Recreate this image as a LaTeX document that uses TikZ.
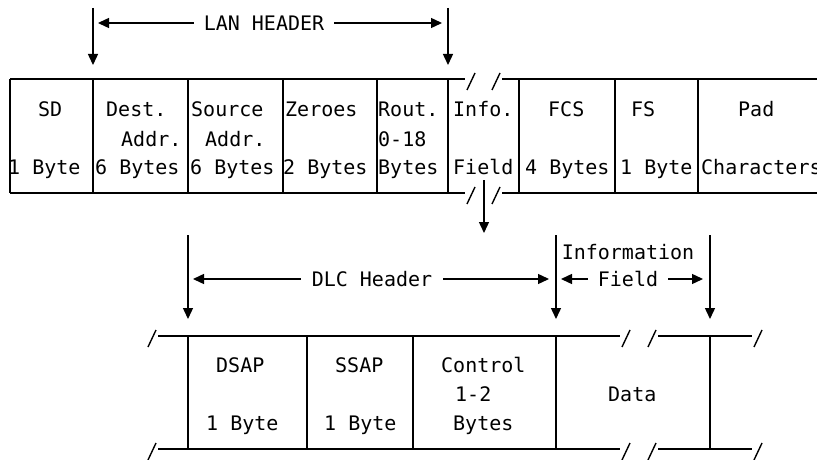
\documentclass[tikz,border=0pt]{standalone}
\usepackage{fontspec}
\newfontfamily\monoface{DejaVu Sans Mono}
\newcommand\dfont{\fontsize{20}{24}\selectfont\monoface}
\usetikzlibrary{arrows.meta}
\begin{document}
\begin{tikzpicture}[x=1pt,y=-1pt,
  ln/.style={line width=1.4pt},
  arr/.style={ln,-{Triangle[length=11pt,width=10pt]}},
  txt/.style={font=\dfont, inner sep=0pt, anchor=base west},
  lbl/.style={font=\dfont, inner xsep=10pt, inner ysep=0pt},
  brk/.style={ln}]
\clip (0,0) rectangle (817,460);
\fill[white] (0,0) rectangle (817,460);
% ---- LAN header arrows
\coordinate (a1s) at (93,8);  \coordinate (a1e) at (93,65);
\coordinate (a2s) at (448,8); \coordinate (a2e) at (448,65);
\draw[arr] (a1s) -- (a1e);
\draw[arr] (a2s) -- (a2e);
\node[lbl] (lan) at (264,23) {LAN HEADER};
\coordinate (lanL) at (98,23); \coordinate (lanR) at (442,23);
\draw[arr] (lan.west) -- (lanL);
\draw[arr] (lan.east) -- (lanR);
% ---- top frame
\draw[ln] (10,79) -- (465,79);  \draw[ln] (502,79) -- (817,79);
\draw[ln] (10,193) -- (465,193); \draw[ln] (502,193) -- (817,193);
\foreach \x in {10,93,188,283,377,448,519,615,698} {\draw[ln] (\x,79) -- (\x,193);}
\foreach \x in {467,492} {\foreach \y in {79,193} {\draw[brk] (\x,\y+11) -- ++(8,-17);}}
% top texts
\node[txt] (sd1) at (38,117) {SD};
\node[txt] (sd3) at (8,174) {1 Byte};
\node[txt] (de1) at (106,117) {Dest.};
\node[txt] (de2) at (121,146) {Addr.};
\node[txt] (de3) at (95,174) {6 Bytes};
\node[txt] (so1) at (191,117) {Source};
\node[txt] (so2) at (205,146) {Addr.};
\node[txt] (so3) at (190,174) {6 Bytes};
\node[txt] (ze1) at (285,117) {Zeroes};
\node[txt] (ze3) at (283,174) {2 Bytes};
\node[txt] (ro1) at (378,117) {Rout.};
\node[txt] (ro2) at (378,146) {0-18};
\node[txt] (ro3) at (378,174) {Bytes};
\node[txt] (in1) at (453,117) {Info.};
\node[txt] (in3) at (453,174) {Field};
\node[txt] (fc1) at (548,117) {FCS};
\node[txt] (fc3) at (525,174) {4 Bytes};
\node[txt] (fs1) at (631,117) {FS};
\node[txt] (fs3) at (620,174) {1 Byte};
\node[txt] (pa1) at (738,117) {Pad};
\node[txt] (pa3) at (701,174) {Characters};
% middle arrow
\coordinate (m1) at (484,180); \coordinate (m2) at (484,233);
\draw[arr] (m1) -- (m2);
% ---- lower arrows
\coordinate (b1s) at (188,235); \coordinate (b1e) at (188,319);
\coordinate (b2s) at (556,235); \coordinate (b2e) at (556,319);
\coordinate (b3s) at (710,235); \coordinate (b3e) at (710,319);
\draw[arr] (b1s) -- (b1e);
\draw[arr] (b2s) -- (b2e);
\draw[arr] (b3s) -- (b3e);
\node[lbl,inner xsep=11pt] (dlc) at (372,279) {DLC Header};
\coordinate (dlcL) at (193,279); \coordinate (dlcR) at (549,279);
\draw[arr] (dlc.west) -- (dlcL);
\draw[arr] (dlc.east) -- (dlcR);
\node[txt,anchor=base] (inf) at (628,259) {Information};
\node[lbl] (fld) at (628,279) {Field};
\coordinate (fldL) at (561,279); \coordinate (fldR) at (703,279);
\draw[arr] (fld.west) -- (fldL);
\draw[arr] (fld.east) -- (fldR);
% ---- lower frame
\draw[ln] (158,336) -- (620,336); \draw[ln] (658,336) -- (752,336);
\draw[ln] (158,449) -- (620,449); \draw[ln] (658,449) -- (752,449);
\foreach \x in {188,307,413,556,710} {\draw[ln] (\x,336) -- (\x,449);}
\foreach \x in {148,622,648,754} {\foreach \y in {336,449} {\draw[brk] (\x,\y+11) -- ++(8,-17);}}
% lower texts
\node[txt] (ds1) at (216,372) {DSAP};
\node[txt] (ds3) at (206,430) {1 Byte};
\node[txt] (ss1) at (335,372) {SSAP};
\node[txt] (ss3) at (324,430) {1 Byte};
\node[txt] (co1) at (441,372) {Control};
\node[txt] (co2) at (455,401) {1-2};
\node[txt] (co3) at (453,430) {Bytes};
\node[txt] (da2) at (608,401) {Data};
\end{tikzpicture}
\end{document}
